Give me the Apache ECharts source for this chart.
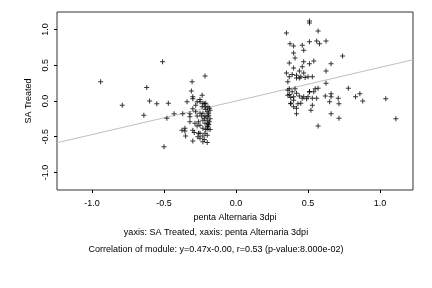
<!DOCTYPE html>
<html>
<head>
<meta charset="utf-8">
<script src="https://cdn.jsdelivr.net/npm/echarts@6/dist/echarts.min.js"></script>
<style>
  html, body { margin: 0; padding: 0; background: #fff; }
  #chart { width: 432px; height: 288px; }
</style>
</head>
<body>
<div id="chart"></div>
<script>
  // points: [penta Alternaria 3dpi, SA Treated]
  var leftOutliers = [
    [-0.94, 0.27], [-0.79, -0.06], [-0.62, 0.19], [-0.60, 0.00], [-0.55, -0.04],
    [-0.47, -0.03], [-0.64, -0.20], [-0.48, -0.24], [-0.43, -0.18], [-0.37, -0.18],
    [-0.51, 0.55], [-0.50, -0.64]
  ];
  var leftCluster = [
    [-0.215, 0.35], [-0.305, 0.27], [-0.31, 0.14], [-0.30, 0.06], [-0.30, 0.03],
    [-0.34, -0.01], [-0.235, 0.08], [-0.27, -0.01], [-0.25, -0.01], [-0.23, -0.03],
    [-0.21, -0.03], [-0.215, -0.08], [-0.195, -0.08], [-0.235, -0.08], [-0.28, -0.06],
    [-0.30, -0.11], [-0.32, -0.18], [-0.32, -0.22], [-0.32, -0.29], [-0.27, -0.21],
    [-0.25, -0.17], [-0.23, -0.17], [-0.20, -0.15], [-0.215, -0.21], [-0.20, -0.22],
    [-0.19, -0.17], [-0.23, -0.27], [-0.20, -0.27], [-0.215, -0.31], [-0.195, -0.31],
    [-0.285, -0.31], [-0.25, -0.34], [-0.355, -0.38], [-0.375, -0.41], [-0.355, -0.42],
    [-0.30, -0.41], [-0.23, -0.38], [-0.195, -0.39], [-0.25, -0.45], [-0.215, -0.45],
    [-0.35, -0.49], [-0.265, -0.50], [-0.23, -0.49], [-0.20, -0.48], [-0.30, -0.56],
    [-0.23, -0.57], [-0.25, -0.52], [-0.195, -0.35], [-0.20, -0.36],
    [-0.185, -0.10], [-0.18, -0.13], [-0.19, -0.20], [-0.18, -0.25], [-0.185, -0.29],
    [-0.19, -0.33], [-0.18, -0.40], [-0.21, -0.12], [-0.22, -0.24], [-0.21, -0.40],
    [-0.24, -0.21], [-0.26, -0.29], [-0.28, -0.15], [-0.26, -0.45], [-0.22, -0.54],
    [-0.20, -0.58], [-0.27, -0.35], [-0.22, -0.04], [-0.25, 0.02], [-0.29, -0.44]
  ];
  var rightCluster = [
    [0.51, 1.12], [0.51, 1.09], [0.35, 0.95], [0.57, 0.98], [0.375, 0.80],
    [0.40, 0.77], [0.46, 0.78], [0.51, 0.83], [0.56, 0.84], [0.58, 0.80],
    [0.625, 0.84], [0.40, 0.67], [0.47, 0.71], [0.41, 0.60], [0.74, 0.63],
    [0.37, 0.53], [0.47, 0.55], [0.51, 0.52], [0.54, 0.56], [0.66, 0.52],
    [0.40, 0.46], [0.46, 0.48], [0.35, 0.39], [0.37, 0.34], [0.42, 0.36],
    [0.44, 0.42], [0.47, 0.39], [0.625, 0.42], [0.36, 0.27], [0.42, 0.32],
    [0.44, 0.32], [0.50, 0.34], [0.53, 0.34], [0.625, 0.25], [0.37, 0.17],
    [0.41, 0.17], [0.39, 0.13], [0.51, 0.13], [0.54, 0.13], [0.57, 0.18],
    [0.78, 0.18], [0.36, 0.08], [0.40, 0.06], [0.44, 0.07], [0.47, 0.06],
    [0.50, 0.06], [0.56, 0.04], [0.62, 0.07], [0.66, 0.10], [0.66, 0.06],
    [0.71, 0.04], [0.83, 0.06], [0.86, 0.10], [0.88, 0.00], [1.04, 0.03],
    [0.40, 0.01], [0.38, -0.03], [0.43, -0.04], [0.53, -0.06], [0.65, -0.01],
    [0.715, -0.04], [0.40, -0.08], [0.52, -0.13], [0.42, -0.18], [0.66, -0.18],
    [0.715, -0.24], [1.11, -0.25], [0.57, -0.35],
    [0.39, 0.37], [0.45, 0.34], [0.48, 0.33], [0.36, 0.15], [0.42, 0.11],
    [0.37, 0.09], [0.38, 0.05], [0.46, 0.04], [0.49, 0.03], [0.53, 0.04],
    [0.51, 0.13], [0.55, 0.17], [0.38, -0.04], [0.45, -0.03], [0.42, -0.10]
  ];
  var xTicks = [-1.0, -0.5, 0.0, 0.5, 1.0];
  var yTicks = [-1.0, -0.5, 0.0, 0.5, 1.0];
  var fitSlope = 0.47;
  var fitIntercept = 0.0;
  var xMin = -1.243, xMax = 1.229;
  var yMin = -1.245, yMax = 1.245;

  var points = leftOutliers.concat(leftCluster, rightCluster);
  var fitLine = [
    [xMin, fitSlope * xMin + fitIntercept],
    [xMax, fitSlope * xMax + fitIntercept]
  ];

  var font = 'Liberation Sans, Arial, sans-serif';
  var chart = echarts.init(document.getElementById('chart'));
  chart.setOption({
    animation: false,
    backgroundColor: '#fff',
    textStyle: { fontFamily: font },
    title: [
      {
        text: 'yaxis: SA Treated, xaxis: penta Alternaria 3dpi',
        left: 'center', top: 223,
        textStyle: { fontSize: 9, fontWeight: 'normal', color: '#000', fontFamily: font }
      },
      {
        text: 'Correlation of module: y=0.47x-0.00, r=0.53 (p-value:8.000e-02)',
        left: 'center', top: 240,
        textStyle: { fontSize: 9, fontWeight: 'normal', color: '#000', fontFamily: font }
      }
    ],
    grid: {
      left: 57, right: 19, top: 12, bottom: 98,
      show: true, borderColor: '#333', borderWidth: 1
    },
    xAxis: {
      type: 'value', min: xMin, max: xMax,
      name: 'penta Alternaria 3dpi', nameLocation: 'middle', nameGap: 20,
      nameTextStyle: { fontSize: 9, color: '#000' },
      axisLine: { show: false, onZero: false },
      axisTick: { show: true, length: 3, lineStyle: { color: '#000' },
        customValues: xTicks },
      axisLabel: { fontSize: 9, color: '#000', margin: 9,
        customValues: xTicks,
        formatter: function (v) { return v.toFixed(1); } },
      splitLine: { show: false }
    },
    yAxis: {
      type: 'value', min: yMin, max: yMax,
      name: 'SA Treated', nameLocation: 'middle', nameGap: 17,
      nameTextStyle: { fontSize: 9, color: '#000' },
      axisLine: { show: false, onZero: false },
      axisTick: { show: true, length: 3, lineStyle: { color: '#000' },
        customValues: yTicks },
      axisLabel: { fontSize: 9, color: '#000', margin: 7, rotate: 90,
        customValues: yTicks,
        formatter: function (v) { return v.toFixed(1); } },
      splitLine: { show: false }
    },
    series: [
      {
        type: 'line',
        data: fitLine,
        symbol: 'none',
        lineStyle: { color: '#c0c0c0', width: 1 },
        z: 1
      },
      {
        type: 'scatter',
        data: points,
        symbol: 'path://M2,0H3V5H2Z M0,2H5V3H0Z',
        symbolSize: 5,
        itemStyle: { color: '#000' },
        z: 2
      }
    ]
  });
</script>
</body>
</html>
